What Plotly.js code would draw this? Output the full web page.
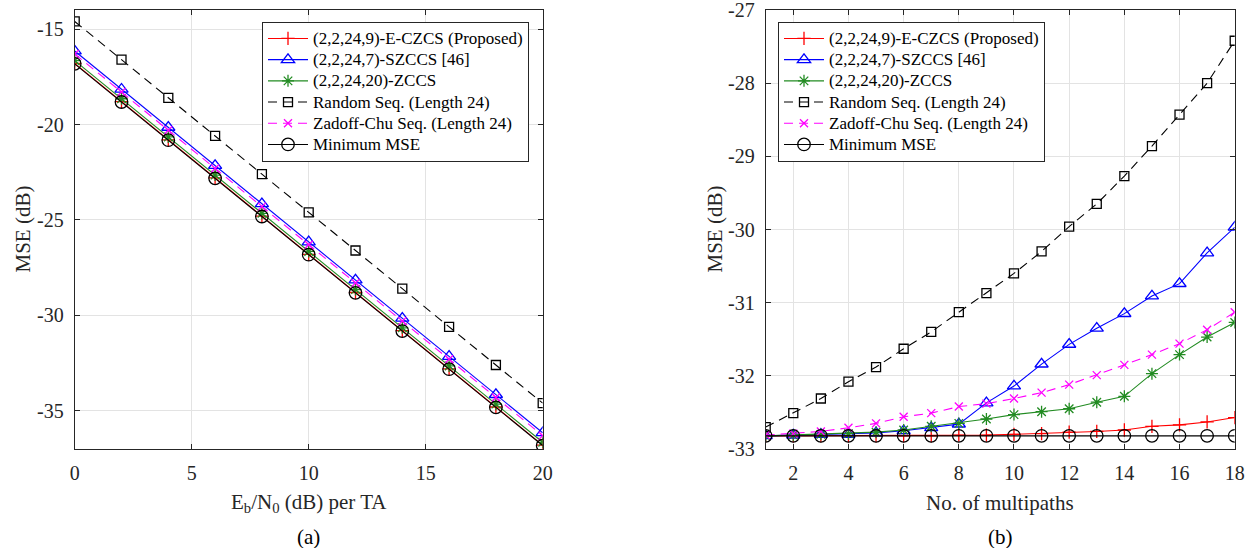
<!DOCTYPE html>
<html>
<head>
<meta charset="utf-8">
<script src="https://cdn.plot.ly/plotly-3.0.1.min.js"></script>
<style>html,body{margin:0;padding:0;background:#fff;}#chart{width:1251px;height:548px;}</style>
</head>
<body>
<div id="chart"></div>
<script>
// ---- Data: panel (a) ----
const ebn0 = [0, 2, 4, 6, 8, 10, 12, 14, 16, 18, 20];
const a_eczcs = [-16.8, -18.8, -20.8, -22.8, -24.8, -26.8, -28.8, -30.8, -32.8, -34.8, -36.8];
const a_szccs = [-16.15, -18.15, -20.15, -22.15, -24.15, -26.15, -28.15, -30.15, -32.15, -34.15, -36.15];
const a_zccs = [-16.65, -18.65, -20.65, -22.65, -24.65, -26.65, -28.65, -30.65, -32.65, -34.65, -36.65];
const a_random = [-14.6, -16.6, -18.6, -20.6, -22.6, -24.6, -26.6, -28.6, -30.6, -32.6, -34.6];
const a_zc = [-16.3, -18.3, -20.3, -22.3, -24.3, -26.3, -28.3, -30.3, -32.3, -34.3, -36.3];
const a_min = [-16.82, -18.82, -20.82, -22.82, -24.82, -26.82, -28.82, -30.82, -32.82, -34.82, -36.82];
const a_xticks = [0, 5, 10, 15, 20];
const a_yticks = [-35, -30, -25, -20, -15];
const a_yticklabels = ['-35', '-30', '-25', '-20', '-15'];

// ---- Data: panel (b) ----
const paths = [1, 2, 3, 4, 5, 6, 7, 8, 9, 10, 11, 12, 13, 14, 15, 16, 17, 18];
const b_eczcs = [-32.82, -32.82, -32.82, -32.82, -32.82, -32.82, -32.82, -32.81, -32.81, -32.80, -32.79, -32.77, -32.76, -32.74, -32.69, -32.67, -32.63, -32.57];
const b_szccs = [-32.82, -32.81, -32.80, -32.80, -32.78, -32.75, -32.71, -32.66, -32.37, -32.14, -31.84, -31.57, -31.35, -31.15, -30.91, -30.74, -30.32, -29.97];
const b_zccs = [-32.82, -32.81, -32.80, -32.79, -32.77, -32.74, -32.69, -32.65, -32.59, -32.53, -32.49, -32.45, -32.36, -32.28, -31.97, -31.71, -31.47, -31.27];
const b_random = [-32.70, -32.51, -32.31, -32.08, -31.88, -31.63, -31.40, -31.13, -30.87, -30.60, -30.30, -29.96, -29.65, -29.27, -28.86, -28.43, -28.00, -27.42];
const b_zc = [-32.81, -32.79, -32.76, -32.71, -32.65, -32.56, -32.51, -32.42, -32.38, -32.31, -32.23, -32.12, -31.99, -31.85, -31.71, -31.56, -31.37, -31.13];
const b_min = [-32.82, -32.82, -32.82, -32.82, -32.82, -32.82, -32.82, -32.82, -32.82, -32.82, -32.82, -32.82, -32.82, -32.82, -32.82, -32.82, -32.82, -32.82];
const b_xticks = [2, 4, 6, 8, 10, 12, 14, 16, 18];
const b_yticks = [-33, -32, -31, -30, -29, -28, -27];
const b_yticklabels = ['-33', '-32', '-31', '-30', '-29', '-28', '-27'];

const names = ['(2,2,24,9)-E-CZCS (Proposed)', '(2,2,24,7)-SZCCS [46]', '(2,2,24,20)-ZCCS',
               'Random Seq. (Length 24)', 'Zadoff-Chu Seq. (Length 24)', 'Minimum MSE'];

const styles = [
  {color: '#ff0000', symbol: 'cross-thin-open', size: 9.5, dash: 'solid'},
  {color: '#0000ff', symbol: 'triangle-up-open', size: 11.5, dash: 'solid'},
  {color: '#228b22', symbol: 'asterisk-open', size: 10, dash: 'solid'},
  {color: '#000000', symbol: 'square-open', size: 9, dash: '9px,6px'},
  {color: '#ff00ff', symbol: 'x-thin-open', size: 8, dash: '9px,6px'},
  {color: '#000000', symbol: 'circle-open', size: 12.5, dash: 'solid'}
];

const FAM = 'Liberation Serif, Times New Roman, serif';

function mk(x, y, i, xa, ya, lg) {
  const s = styles[i];
  return {
    x: x, y: y, name: '<span style="font-size:17px">' + names[i] + '</span>',
    type: 'scatter', mode: 'lines+markers',
    xaxis: xa, yaxis: ya, legend: lg,
    line: {color: s.color, width: 1.1, dash: s.dash},
    marker: {symbol: s.symbol, size: s.size, color: s.color, line: {color: s.color, width: 1.3}}
  };
}

const aSeries = [a_eczcs, a_szccs, a_zccs, a_random, a_zc, a_min];
const bSeries = [b_eczcs, b_szccs, b_zccs, b_random, b_zc, b_min];
const traces = [];
aSeries.forEach((s, i) => traces.push(mk(ebn0, s, i, 'x', 'y', 'legend')));
bSeries.forEach((s, i) => traces.push(mk(paths, s, i, 'x2', 'y2', 'legend2')));

const axisCommon = {
  showline: true, mirror: 'ticks', linecolor: '#262626', linewidth: 1,
  ticks: 'inside', ticklen: 5, tickcolor: '#262626',
  showgrid: true, gridcolor: '#e3e3e3', gridwidth: 1, zeroline: false,
  tickfont: {family: FAM, size: 20, color: '#262626'},
  ticklabelstandoff: 6, ticklabeloverflow: 'allow'
};
const titleFont = {family: FAM, size: 21, color: '#262626'};
const W = 1251;
const legendCommon = {
  bgcolor: '#ffffff', bordercolor: '#262626', borderwidth: 1,
  font: {family: FAM, size: 14, color: '#000'},
  xanchor: 'left', yanchor: 'top', tracegroupgap: 0, itemwidth: 40
};

const layout = {
  width: 1251, height: 548,
  margin: {l: 0, r: 0, t: 10, b: 99},
  paper_bgcolor: '#ffffff', plot_bgcolor: '#ffffff',
  font: {family: FAM, size: 17, color: '#262626'},
  showlegend: true,
  xaxis: Object.assign({}, axisCommon, {
    domain: [74.7 / W, 542.7 / W], range: [0, 20], tickvals: a_xticks, anchor: 'y'
  }),
  yaxis: Object.assign({}, axisCommon, {
    domain: [0, 1], range: [-37, -14], tickvals: a_yticks, ticktext: a_yticklabels, anchor: 'x'
  }),
  xaxis2: Object.assign({}, axisCommon, {
    domain: [765.7 / W, 1234.7 / W], range: [1, 18], tickvals: b_xticks, anchor: 'y2'
  }),
  yaxis2: Object.assign({}, axisCommon, {
    domain: [0, 1], range: [-33, -27], tickvals: b_yticks, ticktext: b_yticklabels, anchor: 'x2'
  }),
  legend: Object.assign({}, legendCommon, {x: 262 / W, y: 0.973}),
  legend2: Object.assign({}, legendCommon, {x: 778 / W, y: 0.973}),
  annotations: [
    {text: 'E<sub>b</sub>/N<sub>0</sub> (dB) per TA', xref: 'paper', yref: 'paper', x: 308.7 / W, y: -0.123,
     showarrow: false, font: titleFont, xanchor: 'center', yanchor: 'middle'},
    {text: 'No. of multipaths', xref: 'paper', yref: 'paper', x: 1000.2 / W, y: -0.123,
     showarrow: false, font: titleFont, xanchor: 'center', yanchor: 'middle'},
    {text: 'MSE (dB)', xref: 'paper', yref: 'paper', x: 22 / W, y: 0.5, textangle: -90,
     showarrow: false, font: titleFont, xanchor: 'center', yanchor: 'middle'},
    {text: 'MSE (dB)', xref: 'paper', yref: 'paper', x: 714 / W, y: 0.5, textangle: -90,
     showarrow: false, font: titleFont, xanchor: 'center', yanchor: 'middle'},
    {text: '(a)', xref: 'paper', yref: 'paper', x: 308.7 / W, y: -0.2, showarrow: false,
     font: {family: FAM, size: 21, color: '#000'}, xanchor: 'center', yanchor: 'middle'},
    {text: '(b)', xref: 'paper', yref: 'paper', x: 1000.2 / W, y: -0.2, showarrow: false,
     font: {family: FAM, size: 21, color: '#000'}, xanchor: 'center', yanchor: 'middle'}
  ]
};

Plotly.newPlot('chart', traces, layout, {displayModeBar: false, staticPlot: true});
</script>
</body>
</html>
